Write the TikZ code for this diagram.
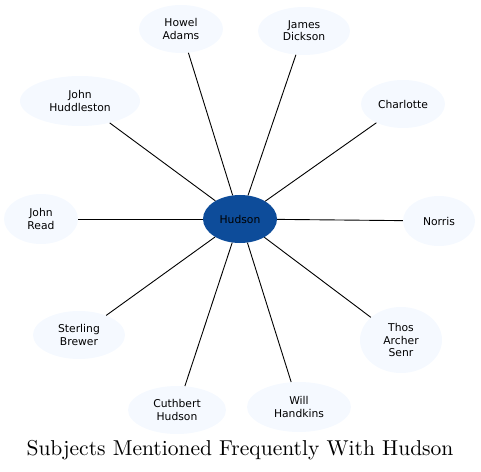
\documentclass[tikz,border=0pt]{standalone}
\usepackage{fontspec}
\newfontfamily\nodefont{DejaVu Sans}
\newfontfamily\titlefont[Extension=.otf]{lmroman10-regular}
\usetikzlibrary{shapes.geometric}
\definecolor{leaf}{HTML}{F5F9FF}
\definecolor{hub}{HTML}{0D4C9A}
\begin{document}
\begin{tikzpicture}[x=1bp,y=-1bp,
  leafnode/.style={ellipse,draw=none,fill=leaf,inner sep=0pt,align=center,font=\nodefont\fontsize{10.8}{12.3}\selectfont},
  hubnode/.style={ellipse,draw=none,fill=hub,inner sep=0pt,align=center,font=\nodefont\fontsize{10.8}{12.3}\selectfont,text=black},
  link/.style={draw=black,line width=0.9bp}]
\useasboundingbox (0,0) rectangle (481,472);
\node[hubnode,minimum width=74bp,minimum height=48bp] (hud) at (240,219) {Hudson};
\node[leafnode,minimum width=84bp,minimum height=48bp] (howel) at (181,29) {Howel\\Adams};
\node[leafnode,minimum width=92bp,minimum height=48bp] (james) at (304,31) {James\\Dickson};
\node[leafnode,minimum width=84bp,minimum height=48bp] (charl) at (403,104) {Charlotte};
\node[leafnode,minimum width=120bp,minimum height=50bp] (jhud) at (80,101) {John\\Huddleston};
\node[leafnode,minimum width=74bp,minimum height=50bp] (jread) at (41,219) {John\\Read};
\node[leafnode,minimum width=72bp,minimum height=50bp] (norris) at (439,221) {Norris};
\node[leafnode,minimum width=92bp,minimum height=48bp] (sterl) at (79,335) {Sterling\\Brewer};
\node[leafnode,minimum width=82bp,minimum height=66bp] (thos) at (401,340) {Thos\\Archer\\Senr};
\node[leafnode,minimum width=98bp,minimum height=48bp] (cuth) at (177,410) {Cuthbert\\Hudson};
\node[leafnode,minimum width=104bp,minimum height=50bp] (will) at (299,407) {Will\\Handkins};
\foreach \n in {howel,james,charl,jhud,jread,norris,sterl,thos,cuth,will}
  \draw[link] (hud) -- (\n);
\node[font=\titlefont\fontsize{21.6}{25}\selectfont,anchor=base] (title) at (240,455) {Subjects Mentioned Frequently With Hudson};
\end{tikzpicture}
\end{document}
